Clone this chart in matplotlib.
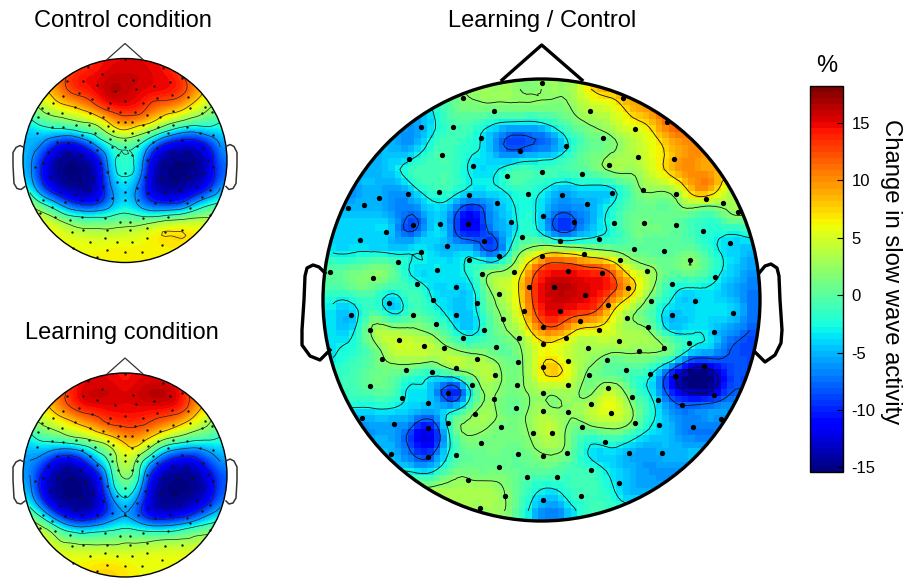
import matplotlib
matplotlib.use("Agg")
import matplotlib.pyplot as plt
import numpy as np
from matplotlib.patches import Ellipse
from matplotlib.tri import Triangulation, CubicTriInterpolator, UniformTriRefiner

plt.rcParams["font.family"] = ["Liberation Sans", "DejaVu Sans"]
plt.rcParams["axes.unicode_minus"] = False

ratio_map = np.array([
    [-3, -3, -3, -3, -3, -3, 0, 2.5, 2.5, 2.5, 1.5, 2.5, 3, 7, 9, 10, 11, 12, 12, 12, 12, 12],
    [-5, -5, -5, -5, -5, -3, 0, 1, 1, 1, 1, 1, 2, 4, 5, 8, 10, 12, 12, 12, 12, 12],
    [-5, -5, -5, -5, -6, -3.5, -1, -1.5, -4, -6, -6, -4, -0.5, 1.5, 3, 5, 7, 11, 11, 11, 11, 11],
    [-5, -5, -5, -5, -5, -1.5, -1, -2.5, -5, -8.2, -7, -6, -2, 0.5, 1.5, 3.5, 5.5, 8, 10, 10, 10, 10],
    [-5, -5, -5, -4, -1.5, -1, -1, -3.5, -3.5, -1.5, -1, -1, -0.5, 0.5, 2.5, 2.5, 5, 8, 10, 9, 9, 9],
    [-6, -6, -5, -6, -4, -1.5, -1.5, -3.5, -3.5, -2, -2, -4, -4.5, -4, -3.5, 0, 2.5, 3, 8, 9, 4, 4],
    [-5, -5, -5, -6, -7, -4, -6, -10, -6, -3.5, -2.5, -6, -7, -5.5, -2.5, 0, 0.5, 0.5, 1.5, 0.5, 2.5, 2.5],
    [-4, -4, -4, -5, -8.5, -4, -7, -11, -7, -4, -2, -7, -8.5, -5, -2.5, 0.5, 1, 0.5, -1, -2, -2, -1],
    [-3.5, -3.5, -3.5, -4, -3.5, -4, -5, -5, -8.5, -2, 3, 5, 4, 2.5, 1.5, 0.5, 0, 0, 0.5, -2, -4, -5],
    [0, 0.5, 1.5, 0.5, -3.5, -3.5, -3.5, -2, 1, 3, 10, 14, 14, 13, 11, 5, 2.5, 0.5, 1.5, -1, -4, -6],
    [-1, 0, 0, -2, -1, -3.5, -4, -3.5, 2.5, 5, 12, 16, 16, 15, 13, 8, 2.5, -2, -3.5, -3.5, -5, -7],
    [-3.5, -4, -1, -4, -1, -2, -4, -4, 1, 4, 11, 15, 14, 13, 8, 3, -0.5, -4, -4, -3.5, -4, -7],
    [-3.5, -3.5, 2.5, 3, 2.5, 1, -2, -4, 0, 2.5, 7.5, 11, 8, 6, 5, 3, 1.5, -3.5, -3.5, -4, -6, -8],
    [-3.5, -2, 0.5, 4, 4.5, 4, 2.5, 1, 0.5, 0.5, 4, 6, 4, 3, 2.5, 2.5, 2.5, 1, -3.5, -5, -8, -9],
    [-2, -1, 0.5, 1, 0, -1, 1.5, 3, 3.5, 1, 4, 8, 5, 1.5, 0, -0.5, -2, -8, -14, -13.5, -9, -9],
    [-2, -1, 0, -0.5, -3.5, -5, -10, -2, 2.5, 1, 2.5, 3, 3, 1.5, 4, 0, -3.5, -10, -14, -13.5, -8.5, -8.5],
    [-3.5, -3.5, -3.5, -3.5, -4.5, -5.5, -3.5, 1, 2.5, 0.5, 2.5, 2.5, 2.5, 4, 5.5, 2.5, -2, -6, -7, -6, -6, -6],
    [-6, -6, -6, -6, -9, -11, -1, 2.5, 1.5, 1, 2.5, 4, 1, 0.5, 1.5, 0, -3.5, -5, -7, -7, -7, -7],
    [-5, -5, -5, -5, -8.5, -9, -2, 0.5, 1, 0.5, 1.5, 2.5, 0.5, -3.5, -3.5, -5, -5.5, -5, -5, -5, -5, -5],
    [-3.5, -3.5, -3.5, -3.5, -3.5, -3.5, 0.5, 1, 1, 0.5, 0, 0, -1, -1.5, -3.5, -5, -6, -6, -6, -6, -6, -6],
    [3, 3, 3, 3, 3, 3, 3, 3, 3, 1, -2, -3.5, -1.5, -1, -2.5, -5, -5, -5, -5, -5, -5, -5],
    [2.5, 2.5, 2.5, 2.5, 2.5, 2.5, 2.5, 2.5, 2.5, 1, -4, -7, -4, -1, -1, -1, -1, -1, -1, -1, -1, -1],
])

control_map = np.array([
    [10, 10, 11, 12, 13, 14, 15, 15, 15, 15, 14, 12, 10, 9, 9],
    [9, 9, 11, 14, 15, 15, 16, 16, 16, 15, 15, 14, 11, 8, 8],
    [5, 7, 10, 13, 14, 15, 17, 16, 15, 15, 15, 14, 11, 7, 5],
    [2.5, 4, 6.5, 8, 10, 13, 15, 15, 15, 12, 11, 10, 7, 4, 2],
    [-2, 1, 2, 3, 4, 6, 10, 12, 11, 9, 6, 4, 2, 1, -1],
    [-5, -4, -4, -4, -2, 0, 4, 6, 4, 1, -3, -6, -7, -5, -4],
    [-5, -7, -12, -14, -11, -6, -2, -1, -2, -8, -13, -14, -14, -12, -6],
    [-5, -11, -15, -15, -15, -13, -3, -1, -3, -13, -15, -15, -15, -14, -7],
    [-5, -12, -15, -15, -15, -14, -4, -1, -4, -14, -15, -15, -15, -14, -8],
    [-3, -10, -14, -15, -15, -14, -6, -3.5, -7, -14, -15, -15, -14, -12, -6],
    [2, -3, -7, -11, -13, -12, -7, -3.5, -7, -11, -12, -12, -8, -4, -2],
    [6, 4, 1, -2, -3, -3, -2, -1, -2, -3, -2, -1, 1, 2, 3],
    [7, 7, 6, 4, 3, 3, 3, 3.5, 4, 6, 7.5, 7.5, 7, 6, 6],
    [6, 6, 6, 6, 6, 5.5, 6, 6, 6, 6.5, 7, 7.5, 7, 6, 6],
    [6, 6, 6, 6, 6, 6.5, 6.5, 6.5, 6.5, 6.5, 6, 6, 6, 6, 6],
])

learning_map = np.array([
    [10, 10, 11, 13, 15, 15, 15, 14, 15, 15, 15, 14, 11, 10, 9],
    [8, 8, 11, 14, 16, 16, 16, 15, 16, 17, 17, 15, 12, 9, 8],
    [6, 7, 10, 13, 15, 15, 15, 15, 15, 15, 15, 15, 11, 7, 5],
    [2, 4, 6, 8, 10, 12, 14, 14, 14, 13, 12, 10, 7, 4, 1],
    [-2, 1, 2, 4, 5, 7, 9, 11, 11, 9, 6, 4, 2, 1, -1],
    [-5, -4, -5, -5, -3, 0, 3, 7, 7, 2, -3, -5, -6, -5, -4],
    [-6, -8, -13, -14, -11, -5, 0, 6, 1, -6, -11, -13, -13, -9, -6],
    [-6, -12, -15, -15, -15, -12, -2, 4, -1, -12, -15, -15, -15, -13, -8],
    [-5, -13, -15, -15, -15, -14, -4, 1, -4, -14, -15, -15, -15, -14, -8],
    [-3, -10, -15, -15, -15, -14, -8, -3, -8, -14, -15, -15, -14, -12, -7],
    [2, -3, -9, -13, -14, -12, -8, -6, -9, -13, -13, -12, -10, -6, -3],
    [6, 4, 0, -3, -4, -3, -2, -1, -2, -3, -3, -2, 0, 1, 2],
    [7, 7, 4, 3, 2.5, 2.5, 2.5, 3, 3, 3.5, 4, 4, 4, 5, 5],
    [6, 6, 6, 6, 6, 6, 6, 5.5, 6, 6, 6, 6, 6, 6, 6],
    [6, 6, 6, 6, 6.5, 7.5, 7.5, 7, 6, 6, 6, 6, 6, 6, 6],
])

# electrodes de la grande carte (pixels de la figure)
big_x = [542, 463, 494, 421, 453, 481, 520, 566, 590, 409, 442, 473, 507, 542, 582, 439, 469, 528, 562, 408, 379, 364, 348, 497, 587, 543, 574, 468, 440, 413, 511, 386, 360, 484, 522, 560, 599, 447, 421, 499, 584, 398, 469, 542, 437, 330, 482, 514, 568, 373, 417, 456, 529, 554,
         623, 667, 635, 603, 674, 638, 609, 643, 612, 676, 706, 723, 738, 614, 644, 676, 703, 730, 634, 664, 690, 620, 602, 647, 715, 672, 628,
         585, 499, 389, 433, 477, 524, 560, 351, 413, 456, 503, 580, 436, 484, 543, 370, 599, 566, 519, 463, 399, 424, 444, 496, 543, 588, 477, 382, 518, 568, 543, 456, 406, 432, 495, 589, 472, 517, 568, 370, 448, 543, 402, 494, 428, 516, 591, 543, 568, 475, 362, 394, 448, 501, 582, 428, 533, 552, 481, 391, 428, 456, 518, 543, 567, 499, 591, 527, 557, 468, 505, 581, 543, 480,
         651, 695, 733, 672, 627, 608, 648, 714, 619, 689, 664, 639, 704, 607, 626, 650, 675, 608, 714, 632, 658, 682, 611, 635, 659, 693, 721, 605, 629, 662, 619]
big_y = [83, 98, 111, 127, 127, 138, 151, 146, 111, 159, 155, 166, 176, 172, 174, 192, 195, 194, 195, 194, 198, 205, 208, 203, 204, 216, 222, 224, 224, 225, 222, 232, 240, 241, 237, 241, 239, 246, 252, 256, 254, 262, 260, 256, 270, 272, 274, 272, 271, 278, 284, 287, 287, 287,
         98, 122, 129, 138, 159, 157, 165, 190, 193, 194, 199, 203, 212, 223, 223, 225, 231, 243, 249, 251, 260, 260, 273, 271, 277, 284, 288,
         295, 294, 303, 300, 303, 311, 311, 315, 315, 315, 319, 321, 324, 330, 327, 330, 330, 338, 338, 338, 340, 346, 348, 347, 344, 348, 359, 359, 362, 361, 367, 368, 370, 372, 375, 375, 385, 385, 385, 386, 393, 393, 398, 399, 403, 408, 404, 411, 412, 414, 418, 424, 423, 427, 427, 428, 433, 433, 443, 454, 457, 455, 454, 456, 453, 467, 470, 477, 477, 480, 496, 496, 500, 508,
         301, 301, 313, 315, 318, 305, 327, 332, 341, 343, 348, 351, 366, 360, 370, 374, 376, 388, 395, 397, 400, 405, 413, 423, 425, 427, 419, 442, 453, 453, 483]

# electrodes des petites cartes (pixels du zoom 3x, carte du haut)
small_x = [375, 265, 490, 305, 200, 250, 400, 545, 510, 290, 345, 408, 462, 238, 188, 275, 330, 375, 430, 470, 515, 565, 225, 125, 160, 325, 360, 405, 440, 480, 520, 570, 615, 145, 185, 270, 310, 355, 395, 605, 635, 115, 155, 190, 228, 268, 325, 375, 430, 475, 520, 560, 110, 245, 285, 340, 395, 445, 505, 600, 640, 170, 205, 270, 330, 375, 415, 460, 545,
           145, 200, 240, 290, 335, 375, 410, 470, 515, 560, 610, 105, 130, 175, 215, 255, 300, 355, 395, 440, 490, 535, 575, 625, 640, 150, 205, 240, 280, 320, 375, 435, 480, 525, 565, 610, 130, 180, 225, 265, 310, 350, 375, 375, 410, 445, 495, 540, 590, 630, 155, 195, 245, 290, 335, 375, 415, 465, 510, 560, 605, 120, 165, 210, 245, 315, 360, 390, 430, 505, 570, 630, 215, 250, 320, 390, 440, 495, 545, 270, 315, 350, 395, 440, 485, 320, 375, 425, 290, 220]
small_y = [178, 200, 205, 222, 243, 243, 240, 235, 245, 255, 272, 268, 258, 280, 288, 297, 310, 303, 310, 295, 285, 290, 322, 325, 310, 325, 335, 335, 345, 350, 332, 325, 320, 340, 340, 340, 350, 365, 365, 340, 335, 352, 380, 382, 376, 376, 378, 365, 375, 380, 375, 380, 398, 405, 398, 392, 400, 395, 400, 400, 405, 425, 428, 425, 418, 420, 420, 425, 420,
           455, 460, 465, 450, 440, 440, 438, 445, 455, 460, 445, 500, 490, 490, 490, 500, 490, 465, 465, 480, 490, 490, 490, 480, 500, 530, 545, 550, 535, 515, 520, 530, 535, 540, 530, 520, 600, 575, 585, 570, 560, 545, 545, 575, 565, 580, 575, 570, 560, 570, 620, 605, 600, 600, 595, 600, 600, 610, 600, 610, 590, 640, 650, 660, 650, 655, 665, 665, 655, 650, 625, 645, 695, 690, 690, 690, 685, 695, 690, 725, 715, 725, 725, 715, 735, 750, 755, 755, 770, 745]

cbar_ticks = [-15, -10, -5, 0, 5, 10, 15]
big_levels = [-13, -8, -3, 2, 7, 12]
small_levels = [-11, -6, -1.5, 3, 8, 13]

VMIN, VMAX = -15.4, 18.2
cmap = plt.get_cmap("jet", 64)


def draw_head(ax, grid, cx, cy, rx, ry, levels, lw, contour_lw, contour_color, blocks=0):
    n_rows, n_cols = grid.shape
    extent = (cx - rx, cx + rx, cy + ry, cy - ry)
    xs = cx - rx + (np.arange(n_cols) + 0.5) * 2 * rx / n_cols
    ys = cy - ry + (np.arange(n_rows) + 0.5) * 2 * ry / n_rows
    X, Y = np.meshgrid(xs, ys)
    tri = Triangulation(X.ravel(), Y.ravel())
    if blocks:
        # rendu en gros pixels comme l'original
        px = np.clip(cx - rx + (np.arange(blocks) + 0.5) * 2 * rx / blocks, xs[0], xs[-1])
        py = np.clip(cy - ry + (np.arange(blocks) + 0.5) * 2 * ry / blocks, ys[0], ys[-1])
        PX, PY = np.meshgrid(px, py)
        field = CubicTriInterpolator(tri, grid.ravel())(PX, PY)
        im = ax.imshow(field, extent=extent, origin="upper", cmap=cmap, vmin=VMIN, vmax=VMAX,
                       interpolation="nearest", aspect="auto", zorder=1)
    else:
        im = ax.imshow(grid, extent=extent, origin="upper", cmap=cmap, vmin=VMIN, vmax=VMAX,
                       interpolation="bicubic", aspect="auto", zorder=1)
    outline = Ellipse((cx, cy), 2 * rx, 2 * ry, fc="none", ec="k", lw=lw, zorder=4)
    ax.add_patch(outline)
    im.set_clip_path(outline)
    tri2, z2 = UniformTriRefiner(tri).refine_field(grid.ravel(), subdiv=2)
    cs = ax.tricontour(tri2, z2, levels=levels, colors=contour_color, linewidths=contour_lw,
                       linestyles="solid", zorder=2)
    cs.set_clip_path(outline)
    return im


fig = plt.figure(figsize=(9.07, 5.78), dpi=100)
ax = fig.add_axes([0, 0, 1, 1])

# carte Learning / Control
im = draw_head(ax, ratio_map, 541.5, 300, 218.5, 221, big_levels, 2.4, 0.6, "#111111", blocks=67)
ax.plot(big_x, big_y, "o", color="k", ms=3.8, mew=0, zorder=3)
ax.plot([502, 541.7, 582], [80, 45, 80], color="k", lw=2.4, zorder=4)
ax.plot([325, 319, 313, 307, 305, 304, 302, 302, 310, 320, 330], [273, 267, 265, 268, 276, 300, 330, 345, 356, 360, 350], color="k", lw=2.4, zorder=4)
ax.plot([760, 765, 771, 777, 779, 780, 782, 781, 775, 765, 755], [272, 266, 264, 268, 276, 300, 330, 343, 355, 362, 352], color="k", lw=2.4, zorder=4)

# petites cartes
for grid, cy in [(control_map, 160.5), (learning_map, 475)]:
    draw_head(ax, grid, 125, cy, 102, 102, small_levels, 1.0, 0.5, "#222222")
    ax.plot(np.array(small_x) / 3, np.array(small_y) / 3 + cy - 160.5, "o", color="#111111", ms=1.7, mew=0, zorder=3)
    ax.plot([107, 125, 143], [cy - 101, cy - 117, cy - 101], color="#333333", lw=0.9, zorder=4)
    ax.plot([24, 20, 16, 13, 13, 14, 17, 21, 25], [cy - 13, cy - 15, cy - 13, cy - 8, cy + 5, cy + 23, cy + 28, cy + 29, cy + 26], color="#333333", lw=1.1, zorder=4)
    ax.plot([226, 230, 234, 237, 237, 236, 233, 229, 226], [cy - 14, cy - 16, cy - 14, cy - 8, cy + 5, cy + 23, cy + 28, cy + 29, cy + 26], color="#333333", lw=1.1, zorder=4)

ax.text(123, 21, "Control condition", fontsize=17, ha="center", va="center")
ax.text(122, 333, "Learning condition", fontsize=17, ha="center", va="center")
ax.text(542, 21, "Learning / Control", fontsize=17, ha="center", va="center")
ax.text(827, 66, "%", fontsize=17, ha="center", va="center")
ax.text(891, 272, "Change in slow wave activity", fontsize=17.2, rotation=270, ha="center", va="center")

ax.set_xlim(0, 907)
ax.set_ylim(578, 0)
ax.axis("off")

cax = fig.add_axes([810 / 907, 1 - 472 / 578, 33 / 907, 386 / 578])
cb = fig.colorbar(im, cax=cax, ticks=cbar_ticks)
cb.ax.tick_params(direction="in", length=4, width=0.8, labelsize=12, pad=6)
cb.outline.set_linewidth(1)

fig.savefig("out.png", dpi=100)
